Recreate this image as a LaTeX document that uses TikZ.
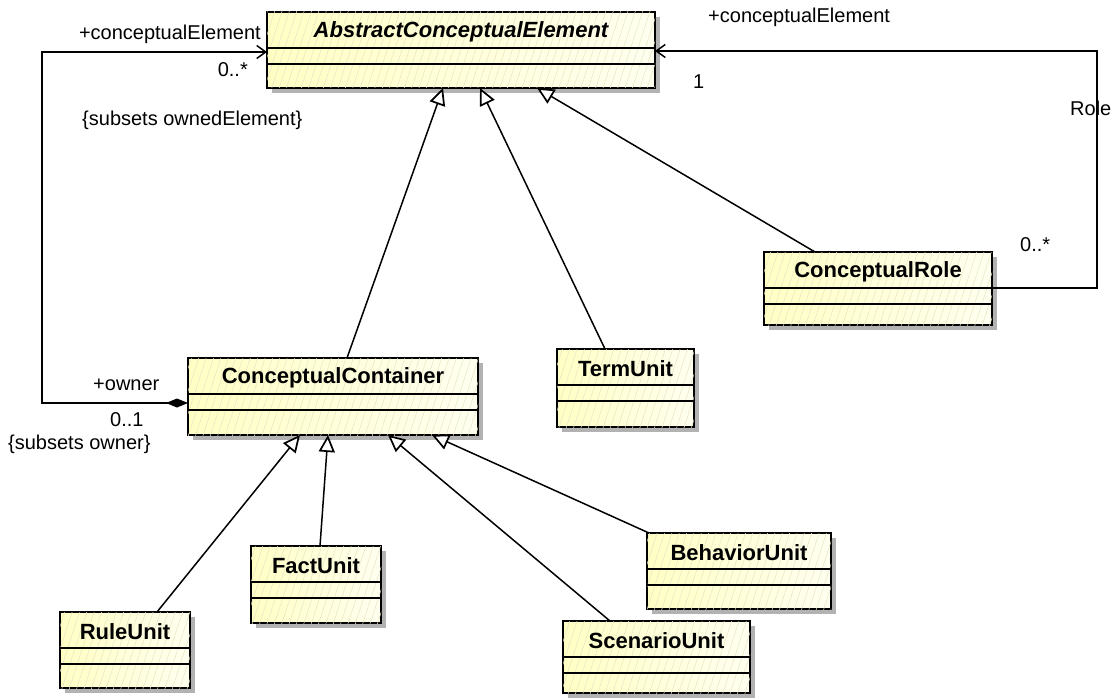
\documentclass[tikz,border=0pt]{standalone}
\usepackage{fontspec}
\setmainfont{Liberation Sans}
\usetikzlibrary{arrows.meta,shadows,patterns.meta,calc}

\definecolor{boxleft}{RGB}{255,255,196}
\definecolor{boxright}{RGB}{255,255,240}
\definecolor{hatchc}{RGB}{232,228,196}
\definecolor{shadowgray}{RGB}{178,178,178}

\tikzset{
  umlbox/.style={draw=black, line width=1.6pt, left color=boxleft, right color=boxright,
    inner sep=0pt, outer sep=0pt, anchor=north west,
    drop shadow={shadow xshift=5pt, shadow yshift=-5pt, fill=shadowgray, opacity=1},
    postaction={pattern={Lines[angle=72,distance=7pt,line width=0.5pt]}, pattern color=hatchc}},
  divline/.style={draw=black, line width=1.4pt},
  ctitle/.style={font=\fontsize{22}{24}\selectfont\bfseries, inner sep=0pt},
  atitle/.style={font=\fontsize{22}{24}\selectfont\bfseries\itshape, inner sep=0pt},
  lbl/.style={font=\fontsize{20}{23}\selectfont, inner sep=0pt},
  gen/.style={draw=black, line width=1.5pt, -{Triangle[open,length=17pt,width=16pt,fill=white,line width=1.7pt]}},
  assocline/.style={draw=black, line width=1.5pt},
}

\newcommand{\umlclass}[7]{%
  \node[umlbox, minimum width=#4pt, minimum height=#5pt] (#1) at (#2,#3) {};
  \draw[divline] ([yshift=-36pt]#1.north west) -- ([yshift=-36pt]#1.north east);
  \draw[divline] ([yshift=-52pt]#1.north west) -- ([yshift=-52pt]#1.north east);
  \node[#7] (#1-title) at ([yshift=-19.5pt]#1.north) {#6};
}

\begin{document}
\begin{tikzpicture}[x=1pt,y=-1pt]
\fill[white] (0,0) rectangle (1119,698);
\useasboundingbox (0,0) rectangle (1119,698);

% classes
\umlclass{ace}{267}{12}{388}{76}{AbstractConceptualElement}{atitle}
\umlclass{role}{764}{252}{228}{73}{ConceptualRole}{ctitle}
\umlclass{cc}{188}{358}{290}{77}{ConceptualContainer}{ctitle}
\umlclass{term}{557}{349}{137}{78}{TermUnit}{ctitle}
\umlclass{fact}{251}{546}{130}{77}{FactUnit}{ctitle}
\umlclass{rule}{60}{612}{130}{76}{RuleUnit}{ctitle}
\umlclass{beh}{647}{533}{184}{76}{BehaviorUnit}{ctitle}
\umlclass{scen}{563}{621}{187}{72}{ScenarioUnit}{ctitle}

% generalizations
\draw[gen] ([xshift=159pt]cc.north west) -- ([xshift=176pt]ace.south west);
\draw[gen] ([xshift=48pt]term.north west) -- ([xshift=213pt]ace.south west);
\draw[gen] ([xshift=51pt]role.north west) -- ([xshift=270pt]ace.south west);
\draw[gen] ([xshift=97pt]rule.north west) -- ([xshift=112pt]cc.south west);
\draw[gen] ([xshift=69pt]fact.north west) -- ([xshift=140pt]cc.south west);
\draw[gen] ([xshift=47pt]scen.north west) -- ([xshift=200pt]cc.south west);
\draw[gen] ([xshift=2pt]beh.north west) -- ([xshift=244pt]cc.south west);

% associations
\draw[assocline, {Diamond[length=22pt,width=9pt]}-{Straight Barb[length=9pt,width=13pt]}]
  ([yshift=-45pt]cc.north west) -- ++(-146,0) |- ([yshift=-40pt]ace.north west);
\draw[assocline, -{Straight Barb[length=9pt,width=13pt]}]
  ([yshift=-36pt]role.north east) -- ++(105,0) |- ([yshift=-39pt]ace.north east);

% labels
\node[lbl, anchor=east] (l1) at (261,34) {+conceptualElement};
\node[lbl, anchor=east] (l2) at (248,70) {0..*};
\node[lbl, anchor=west] (l3) at (82,120) {\{subsets ownedElement\}};
\node[lbl, anchor=west] (l4) at (93,385) {+owner};
\node[lbl, anchor=west] (l5) at (110,420) {0..1};
\node[lbl, anchor=west] (l6) at (8,444) {\{subsets owner\}};
\node[lbl, anchor=west] (r1) at (708,17) {+conceptualElement};
\node[lbl, anchor=west] (r2) at (693,82) {1};
\node[lbl, anchor=west] (r3) at (1070,108) {Role};
\node[lbl, anchor=west] (r4) at (1020,245) {0..*};
\end{tikzpicture}
\end{document}
